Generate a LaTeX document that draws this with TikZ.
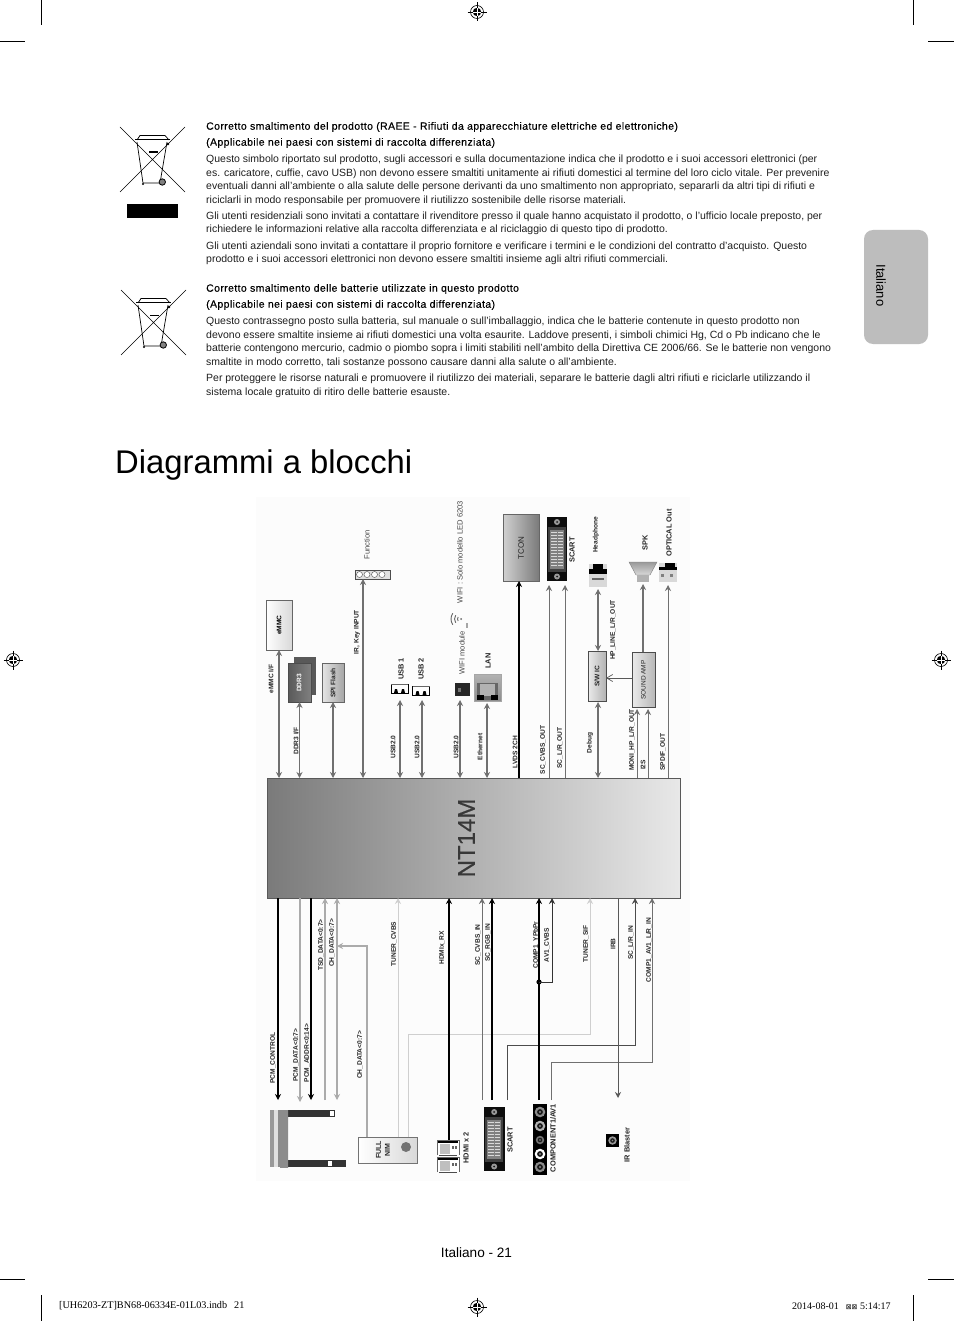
\documentclass[tikz,border=0pt]{standalone}
\usepackage{fontspec}
\setmainfont{Liberation Sans}
\newfontfamily\serifpage{Liberation Serif}
\newfontfamily\dejavu{DejaVu Sans}
\newfontfamily\medfont[FakeBold=0.2,LetterSpace=3.6]{Liberation Sans}
\newfontfamily\chipfont[FakeBold=0.5]{Liberation Sans}
\usetikzlibrary{arrows.meta,shapes.geometric}
\newcommand\bx[6]{%
  \pgfmathsetmacro\bxw{#4-#2}\pgfmathsetmacro\bxh{#5-#3}%
  \pgfmathsetmacro\bxx{(#2+#4)/2}\pgfmathsetmacro\bxy{(#3+#5)/2}%
  \node[inner sep=0pt,outer sep=0pt,minimum width=\bxw pt,minimum height=\bxh pt,#6] (#1) at (\bxx,\bxy) {};}
\definecolor{pagegray}{HTML}{BDBDBD}
\definecolor{wire}{HTML}{707070}
\definecolor{wirelight}{HTML}{ABABAB}
\definecolor{wirefaint}{HTML}{CFCFCF}
\tikzset{
  hd/.style={anchor=west,yshift=-1pt,font=\medfont\fontsize{10.5}{12}\selectfont,text=black,inner sep=0pt},
  body/.style={anchor=west,yshift=-1.8pt,font=\fontsize{10.48}{12}\selectfont,text=black!88,inner sep=0pt},
  lab/.style={rotate=90,font=\bfseries\fontsize{6.6}{7}\selectfont,text=black!85,inner sep=0pt},
  glab/.style={rotate=90,font=\fontsize{7.6}{8}\selectfont,text=black!72,inner sep=0pt},
  dlab/.style={rotate=90,font=\bfseries\fontsize{7.4}{8}\selectfont,text=black!85,inner sep=0pt},
  both/.style={draw=wire,line width=1.4pt,{Stealth[length=6pt,width=6pt]}-{Stealth[length=6pt,width=6pt]}},
  upw/.style={draw=wire,line width=1pt,-{Stealth[length=6pt,width=6pt]}},
  upb/.style={draw=black,line width=1.3pt,-{Stealth[length=6pt,width=6pt]}},
  upl/.style={draw=wirelight,line width=1.4pt,-{Stealth[length=6pt,width=6pt]}},
  upf/.style={draw=wirefaint,line width=.9pt,-{Stealth[length=6pt,width=6pt]}},
  cropline/.style={draw=black,line width=.8pt},
  pics/weee/.style={code={
    \draw[line width=.6pt] (0,0) -- (65,65) (0,65) -- (65,0);
    \draw[line width=.7pt] (17,15) -- (23,56) -- (40,56) -- (47,15);
    \draw[line width=1pt] (15,13) -- (50,13);
    \draw[line width=.7pt] (17,13) -- (20,8.5) -- (45,8.5) -- (49,13);
    \fill (29,24.5) rectangle (38,26);
    \fill (23,57) circle (1.2);
    \draw[line width=.8pt,fill=gray] (42.3,55) circle (3.2);
    \fill (48,17) circle (1.4);
  }},
  pics/regmark/.style={code={
    \draw[line width=.6pt] (0,0) circle (6.5);
    \fill (0,0) circle (4.2);
    \draw[line width=.6pt] (-9.5,0) -- (9.5,0) (0,-9.5) -- (0,9.5);
    \draw[white,line width=.6pt] (-4.2,0) -- (4.2,0) (0,-4.2) -- (0,4.2);
  }},
  pics/scartpins/.style={code={
    \fill[black!75] (1,10) rectangle (19,55);
    \fill[black!50] (3,13) rectangle (17,52);
    \foreach \i in {0,...,11}{
      \draw[white!85!black,line width=.7pt] (4,15.5+3*\i) -- (9.5,15.5+3*\i) (10.5,15.5+3*\i) -- (16,15.5+3*\i);}
    \fill[black!40] (10,5) circle (3);
    \fill[black!90] (10,5) circle (1);
    \fill[black!40] (10,59.5) circle (3);
    \fill[black!90] (10,59.5) circle (1);
  }},
  pics/rca/.style={code={
    \fill[#1] (0,0) circle (5.3);
    \fill[black!90] (0,0) circle (2.9);
    \fill[black!45] (0,0) circle (1.2);
  }},
  pics/hdmiicon/.style={code={
    \fill[white] (0,0) rectangle (22,15);
    \draw[black!60,line width=1pt] (0,15) -- (0,0) -- (22,0) -- (22,15);
    \fill[black] (1,1) rectangle (21,3);
    \draw[black!70,line width=.8pt] (2,15) -- (20,15);
    \fill[black!60] (15,6) rectangle (17,8.5);
    \fill[black!60] (18,6) rectangle (20,8.5);
    \fill[black!25] (3,4) rectangle (13,14);
  }},
  pics/usbicon/.style={code={
    \draw[black,line width=1pt] (0,0) -- (0,9) -- (17,9) -- (17,0);
    \draw[black!60,line width=.5pt] (0,0) -- (17,0);
    \fill[black] (3,9) -- (4,5) -- (6,5) -- (7,9) -- cycle;
    \fill[black] (10,9) -- (11,5) -- (13,5) -- (14,9) -- cycle;
  }},
}
\begin{document}
\begin{tikzpicture}[x=1pt,y=-1pt]
\useasboundingbox (0,0) rectangle (954,1321);
\fill[white] (0,0) rectangle (954,1321);
% crop marks
\draw[cropline] (41,0) -- (41,25) (913,0) -- (913,25) (0,41) -- (25,41) (928,41) -- (954,41);
\draw[cropline] (41,1295) -- (41,1321) (913,1295) -- (913,1321) (0,1279) -- (25,1279) (928,1279) -- (954,1279);
\pic (regT) at (477,12) {regmark};
\pic (regL) at (13,660) {regmark};
\pic (regR) at (941,660) {regmark};
\pic (regB) at (477,1307) {regmark};
% side tab
\fill[pagegray,rounded corners=9pt] (864,230) rectangle (928,344);
\node[rotate=-90,font=\fontsize{13}{15}\selectfont,inner sep=0pt] (tabtext) at (881,285.5) {Italiano};
% disposal icons
\pic (weeeA) at (120,127) {weee};
\pic (weeeB) at (121,290) {weee};
\fill[black] (127,204.5) rectangle (178,218);
% disposal text
\node[hd] (a1) at (206,126) {Corretto smaltimento del prodotto (RAEE - Rifiuti da apparecchiature elettriche ed elettroniche)};
\node[hd] (a2) at (206,142) {(Applicabile nei paesi con sistemi di raccolta differenziata)};
\node[body] (a3) at (206,158) {Questo simbolo riportato sul prodotto, sugli accessori e sulla documentazione indica che il prodotto e i suoi accessori elettronici (per};
\node[body] (a4) at (206,172) {es. caricatore, cuffie, cavo USB) non devono essere smaltiti unitamente ai rifiuti domestici al termine del loro ciclo vitale. Per prevenire};
\node[body] (a5) at (206,185) {eventuali danni all'ambiente o alla salute delle persone derivanti da uno smaltimento non appropriato, separarli da altri tipi di rifiuti e};
\node[body] (a6) at (206,199) {riciclarli in modo responsabile per promuovere il riutilizzo sostenibile delle risorse materiali.};
\node[body] (a7) at (206,215) {Gli utenti residenziali sono invitati a contattare il rivenditore presso il quale hanno acquistato il prodotto, o l'ufficio locale preposto, per};
\node[body] (a8) at (206,228) {richiedere le informazioni relative alla raccolta differenziata e al riciclaggio di questo tipo di prodotto.};
\node[body] (a9) at (206,245) {Gli utenti aziendali sono invitati a contattare il proprio fornitore e verificare i termini e le condizioni del contratto d'acquisto. Questo};
\node[body] (a10) at (206,258) {prodotto e i suoi accessori elettronici non devono essere smaltiti insieme agli altri rifiuti commerciali.};
\node[hd] (b1) at (206,288) {Corretto smaltimento delle batterie utilizzate in questo prodotto};
\node[hd] (b2) at (206,304) {(Applicabile nei paesi con sistemi di raccolta differenziata)};
\node[body] (b3) at (206,320) {Questo contrassegno posto sulla batteria, sul manuale o sull'imballaggio, indica che le batterie contenute in questo prodotto non};
\node[body] (b4) at (206,334) {devono essere smaltite insieme ai rifiuti domestici una volta esaurite. Laddove presenti, i simboli chimici Hg, Cd o Pb indicano che le};
\node[body] (b5) at (206,347) {batterie contengono mercurio, cadmio o piombo sopra i limiti stabiliti nell'ambito della Direttiva CE 2006/66. Se le batterie non vengono};
\node[body] (b6) at (206,361) {smaltite in modo corretto, tali sostanze possono causare danni alla salute o all'ambiente.};
\node[body] (b7) at (206,377) {Per proteggere le risorse naturali e promuovere il riutilizzo dei materiali, separare le batterie dagli altri rifiuti e riciclarle utilizzando il};
\node[body] (b8) at (206,391) {sistema locale gratuito di ritiro delle batterie esauste.};
% title
\node[anchor=base west,font=\fontsize{32.8}{38}\selectfont,text=black,inner sep=0pt] (title) at (115,473) {Diagrammi a blocchi};
% footer
\node[font=\fontsize{13.6}{15}\selectfont,inner sep=0pt] (pageno) at (476.5,1252.5) {Italiano - 21};
\node[anchor=west,font=\serifpage\fontsize{10.2}{12}\selectfont,inner sep=0pt] (foot1) at (59,1306) {[UH6203-ZT]BN68-06334E-01L03.indb\hspace{7pt}21};
\node[anchor=west,font=\serifpage\fontsize{10}{12}\selectfont,inner sep=0pt] (foot2) at (792,1306) {2014-08-01\hspace{7pt}{\dejavu\fontsize{7}{8}\selectfont ⊠⊠} 5:14:17};
%
% ---- block diagram ----
\fill[black!1] (256,497) rectangle (690,1181);
\bx{chip}{267}{778}{680}{898}{draw=black!65,line width=.8pt,left color=black!52,right color=black!9}
\node[rotate=90,font=\chipfont\fontsize{24}{26}\selectfont,text=black!78,inner sep=0pt] (chipname) at (466.5,838) {NT14M};
% top devices
\bx{emmc}{266}{600}{292}{650}{draw=black!60,line width=.7pt,left color=white,right color=black!15}
\node[lab,text=black] (emmct) at (279,625) {eMMC};
\bx{ddrb}{294}{657}{316}{695}{fill=black!65}
\bx{ddr}{288}{663}{311}{702}{draw=black!70,left color=black!65,right color=black!50}
\node[lab,text=white] (ddrt) at (299,683) {DDR3};
\bx{spi}{322}{663}{344}{702}{draw=black!60,left color=black!10,right color=black!35}
\node[lab] (spit) at (333,683) {SPI Flash};
\bx{func}{355}{570}{390}{579}{draw=black!70,line width=.8pt,fill=black!12}
\foreach \cx in {359.5,367,374.5,382}{\draw[black!60,fill=white,line width=.5pt] (\cx,574.5) circle (3);}
\bx{usba}{391}{684}{408}{694}{}
\pic (usbaicon) at (391,684) {usbicon};
\bx{usbb}{413}{686}{429}{695}{}
\pic (usbbicon) at (412.5,686) {usbicon};
\bx{wifi}{455}{683}{470}{696}{fill=black!85}
\fill[black!55] (458,688) rectangle (461,692);
\draw[black!60,line width=.9pt] ([shift={(461,619)}] 145:3.5) arc (145:215:3.5) ([shift={(461,619)}] 145:6.5) arc (145:215:6.5) ([shift={(461,619)}] 145:10) arc (145:215:10);
\fill[black!60] (461,619) circle (1);
\fill[black!35] (466,623) rectangle (468,628);
\bx{lan}{474}{674}{501}{701}{draw=black!35,top color=black!30,bottom color=black!45}
\fill[black!60] (477,683) rectangle (498,700);
\fill[black!30] (480,684) rectangle (495,696);
\fill[black] (477,695) rectangle (484,700);
\fill[black] (491,695) rectangle (498,700);
\bx{tcon}{503}{514}{539}{581}{draw=black!60,line width=.7pt,left color=black!18,right color=black!52}
\node[lab,font=\fontsize{8}{9}\selectfont] (tcont) at (521,548) {TCON};
\bx{scartT}{547}{517}{567}{581}{fill=black!95}
\pic (scartTp) at (547,517) {scartpins};
\bx{head}{589}{564}{607}{587}{fill=black!15}
\fill[black] (593,564) rectangle (603,570);
\fill[black] (589,569) rectangle (607,574);
\fill[black!60] (592,578) rectangle (604,580);
\bx{swic}{588}{651}{606}{701}{draw=black!70,line width=.7pt,left color=black!8,right color=black!30}
\node[lab] (swict) at (597,676) {S/W IC};
\bx{amp}{632}{652}{655}{707}{draw=black!70,line width=.7pt,left color=black!8,right color=black!28}
\node[lab,font=\fontsize{6.5}{8}\selectfont] (ampt) at (643.5,680) {SOUND AMP};
\bx{spk}{629}{562}{657}{582}{}
\path[draw=black!50,top color=black!40,bottom color=black!15] (629,562) -- (657,562) -- (650,575) -- (636,575) -- cycle;
\fill[black!30] (637,575) rectangle (649,582);
\bx{opt}{659}{563}{677}{582}{fill=black!15}
\fill[black] (665,563) rectangle (675,567);
\fill[black] (659,567) rectangle (677,570);
\fill[black!50] (661,574) rectangle (664,577);
\fill[black!50] (670,574) rectangle (673,577);
% top connectors
\draw[both] (emmc.south) -- (emmc.south |- chip.north);
\draw[both] (ddr.south) -- (ddr.south |- chip.north);
\draw[both] (spi.south) -- (spi.south |- chip.north);
\coordinate (funcpt) at (363,579);
\draw[both] (funcpt) -- (funcpt |- chip.north);
\coordinate (usbapt) at (400,700);
\draw[both] (usbapt) -- (usbapt |- chip.north);
\coordinate (usbbpt) at (422,700);
\draw[both] (usbbpt) -- (usbbpt |- chip.north);
\coordinate (wifipt) at (460,700);
\draw[both] (wifipt) -- (wifipt |- chip.north);
\coordinate (lanpt) at (487,703);
\draw[both] (lanpt) -- (lanpt |- chip.north);
\coordinate (tconpt) at (519,581);
\draw[upb] (tconpt |- chip.north) -- (tconpt);
\coordinate (scoA) at (549,585);
\draw[upw] (scoA |- chip.north) -- (scoA);
\coordinate (scoB) at (565,585);
\draw[upw] (scoB |- chip.north) -- (scoB);
\coordinate (headpt) at (598,589);
\coordinate (swtop) at (598,651);
\draw[both] (headpt) -- (swtop);
\coordinate (swbot) at (598,702);
\draw[both] (swbot) -- (swbot |- chip.north);
\draw[draw=black!65,line width=.7pt,-{Straight Barb[length=6pt,width=7pt]}] (amp.west |- 0,678) -- (swic.east |- 0,678);
\coordinate (ampT) at (643,652);
\coordinate (spkpt) at (643,584);
\draw[upw,line width=1.4pt] (ampT) -- (spkpt);
\coordinate (moni) at (637,709);
\draw[upw] (moni |- chip.north) -- (moni);
\coordinate (iis) at (648,709);
\draw[upw] (iis |- chip.north) -- (iis);
\coordinate (optpt) at (668,585);
\draw[upw] (optpt |- chip.north) -- (optpt);
% top labels
\node[lab] (l1) at (271,679) {eMMC I/F};
\node[lab] (l2) at (296,741) {DDR3 I/F};
\node[lab] (l3) at (357,632) {IR, Key INPUT};
\node[lab] (l4) at (393,747) {USB2.0};
\node[lab] (l5) at (417,747) {USB2.0};
\node[lab] (l6) at (456,747) {USB2.0};
\node[lab] (l7) at (480,747) {Ethernet};
\node[lab] (l8) at (515,752) {LVDS 2CH};
\node[lab] (l9) at (543,750) {SC\_CVBS\_OUT};
\node[lab] (l10) at (560,748) {SC\_L/R\_OUT};
\node[lab] (l11) at (590,743) {Debug};
\node[lab] (l12) at (632,740) {MONI\_HP\_L/R\_OUT};
\node[lab] (l13) at (643,765) {I2S};
\node[lab] (l14) at (663,752) {SPDIF\_OUT};
\node[lab] (l15) at (613,630) {HP\_LINE\_L/R\_OUT};
\node[lab] (l16) at (596,535) {Headphone};
\node[dlab] (l17) at (645,543) {SPK};
\node[dlab] (l18) at (669,533) {OPTICAL Out};
\node[dlab] (l19) at (572,550) {SCART};
\node[dlab] (l20) at (401,669) {USB 1};
\node[dlab] (l21) at (421,669) {USB 2};
\node[glab] (l22) at (462,653) {WIFI module};
\node[glab] (l23) at (460,552) {WIFI : Solo modello LED 6203};
\node[dlab] (l24) at (488,661) {LAN};
\node[glab] (l25) at (367,545) {Function};
% bottom devices
\bx{pcm}{270}{1110}{346}{1167}{}
\fill[black!80] (288,1110) rectangle (335,1117);
\fill[black!80] (288,1160) rectangle (346,1166.5);
\fill[white] (330,1111) rectangle (334,1116);
\fill[white] (328,1161) rectangle (332,1166);
\fill[black!40] (270,1110) rectangle (274,1167);
\fill[black!12] (274,1110) rectangle (278,1167);
\fill[black!45] (278,1110) rectangle (280,1167);
\shade[top color=black!45,middle color=black!90,bottom color=black!45] (280,1110) rectangle (288,1167);
\bx{nim}{358}{1137}{417}{1163}{draw=black!55,line width=.7pt,left color=white,right color=black!15}
\fill[black!55] (406,1147) circle (5);
\node[lab,align=center,font=\bfseries\fontsize{7}{9}\selectfont] (nimt) at (383,1150) {FULL\\NIM};
\pic (hdmiA) at (437,1140) {hdmiicon};
\pic (hdmiB) at (437,1157) {hdmiicon};
\bx{hdmi}{437}{1140}{460}{1172}{}
\bx{scartB}{484}{1107}{504.5}{1171}{fill=black!95}
\pic (scartBp) at (484.2,1107) {scartpins};
\bx{comp}{533}{1104}{547}{1175}{fill=black}
\pic (rca1) at (540,1112) {rca=black!45};
\pic (rca2) at (540,1126) {rca=black!30};
\pic[scale=.8] (rca3) at (540,1140) {rca=black!55};
\pic (rca4) at (540,1154) {rca=white};
\pic (rca5) at (540,1167) {rca=black!45};
\bx{irb}{606}{1134}{619}{1147}{fill=black}
\pic[scale=.8] (irbc) at (612.5,1140.5) {rca=black!40};
% bottom connectors
\coordinate (pc1) at (278,1100);
\draw[upb,line width=1.6pt] (pc1 |- chip.south) -- (pc1);
\coordinate (pc2) at (300,1102);
\draw[upl] (pc2 |- chip.south) -- (pc2);
\coordinate (pc3) at (311,1100);
\draw[upb,line width=1.6pt] (pc3 |- chip.south) -- (pc3);
\coordinate (tsd) at (325,1100);
\draw[upl] (tsd) -- (tsd |- chip.south);
\coordinate (chd) at (337,1100);
\draw[upl,{Stealth[length=6pt,width=6pt]}-{Stealth[length=6pt,width=6pt]}] (chd) -- (chd |- chip.south);
\coordinate (chn) at (367,1137);
\draw[upl] (chn) -- (367,946) -- (chd |- 0,946);
\coordinate (tcv) at (398,1137);
\draw[upf] (tcv) -- (tcv |- chip.south);
\coordinate (tsif) at (408,1137);
\draw[upf,draw=wirefaint] (tsif) -- (408,1034) -- (590,1034) -- (590,898);
\coordinate (hrx) at (449,1140);
\draw[upb,line width=1.8pt] (hrx) -- (hrx |- chip.south);
\coordinate (scA) at (482,1100);
\draw[upw] (scA) -- (scA |- chip.south);
\coordinate (scB) at (492,1100);
\draw[upb] (scB) -- (scB |- chip.south);
\coordinate (scC) at (507,1100);
\draw[upw,draw=black!70] (scC) -- (507,1045) -- (635,1045) -- (635,898);
\coordinate (cpA) at (539,1100);
\draw[upb] (cpA) -- (cpA |- chip.south);
\coordinate (jn) at (539,982);
\fill (jn) circle (2.6);
\draw[upw,draw=black!80] (jn) -- (552,982) -- (552,898);
\coordinate (cpB) at (551,1100);
\draw[upw] (cpB) -- (551,1062) -- (652,1062) -- (652,898);
\coordinate (irbp) at (618,1098);
\draw[upw,draw=black!65] (irbp |- chip.south) -- (irbp);
% bottom labels
\node[lab] (m1) at (321,945) {TSD\_DATA<0:7>};
\node[lab] (m2) at (332,943) {CH\_DATA<0:7>};
\node[lab] (m3) at (273,1058) {PCM\_CONTROL};
\node[lab] (m4) at (296,1055) {PCM\_DATA<0:7>};
\node[lab] (m5) at (307,1053) {PCM\_ADDR<0:14>};
\node[lab] (m6) at (360,1055) {CH\_DATA<0:7>};
\node[lab] (m7) at (394,944) {TUNER\_CVBS};
\node[lab] (m8) at (442,948) {HDMIx\_RX};
\node[dlab] (m9) at (466,1148) {HDMI x 2};
\node[lab] (m10) at (478,945) {SC\_CVBS\_IN};
\node[lab] (m11) at (488,943) {SC\_RGB\_IN};
\node[lab] (m12) at (536,945) {COMP1\_YPbPr};
\node[lab] (m13) at (547,945) {AV1\_CVBS};
\node[lab] (m14) at (586,944) {TUNER\_SIF};
\node[lab] (m15) at (613,944) {IRB};
\node[lab] (m16) at (631,943) {SC\_L/R\_IN};
\node[lab] (m17) at (649,950) {COMP1\_AV1\_L/R\_IN};
\node[dlab] (m18) at (510,1140) {SCART};
\node[dlab] (m19) at (553,1138) {COMPONENT1/AV1};
\node[dlab] (m20) at (627,1145) {IR Blaster};
\end{tikzpicture}
\end{document}
